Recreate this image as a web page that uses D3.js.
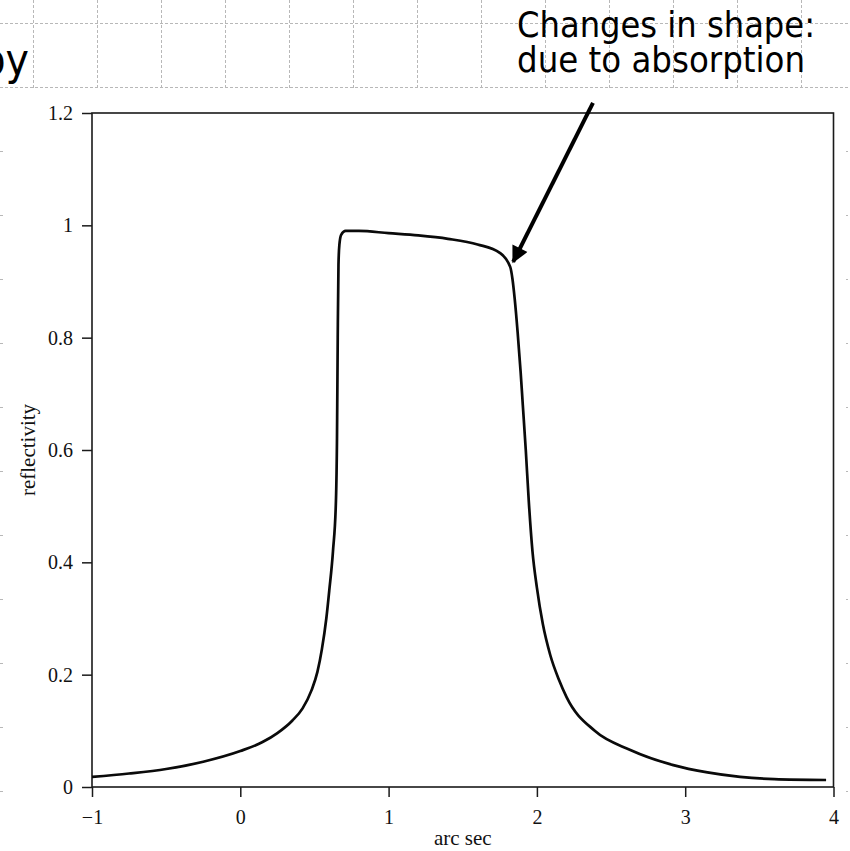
<!DOCTYPE html>
<html>
<head>
<meta charset="utf-8">
<script src="https://cdn.jsdelivr.net/npm/d3@7"></script>
<style>
  html, body { margin: 0; padding: 0; background: #fff; }
  svg { display: block; }
</style>
</head>
<body>
<svg id="chart" width="850" height="851"></svg>
<script>
// rocking curve
const arcSec = [-1.0, -0.75, -0.5, -0.25, 0.0, 0.15, 0.25, 0.35, 0.42, 0.48, 0.52, 0.55, 0.58, 0.6,
  0.625, 0.645, 0.652, 0.657, 0.662, 0.668, 0.68, 0.71, 0.8, 1.0, 1.2, 1.4, 1.6, 1.75, 1.82, 1.835,
  1.85, 1.87, 1.89, 1.905, 1.925, 1.945, 1.97, 2.0, 2.04, 2.09, 2.15, 2.2, 2.39, 2.63, 2.92, 3.15, 3.37, 3.6, 3.95]
const reflectivity = [0.018, 0.024, 0.032, 0.045, 0.064, 0.08, 0.096, 0.118, 0.14, 0.172, 0.205, 0.245, 0.3, 0.35,
  0.42, 0.51, 0.62, 0.8, 0.93, 0.965, 0.983, 0.99, 0.99, 0.986, 0.982, 0.976, 0.966, 0.951, 0.926, 0.905,
  0.87, 0.81, 0.74, 0.68, 0.6, 0.51, 0.42, 0.355, 0.29, 0.235, 0.19, 0.16, 0.1, 0.066, 0.039, 0.026, 0.018, 0.014, 0.0125]

const xTicks = [-1, 0, 1, 2, 3, 4]
const xTickLabels = ["\u22121", "0", "1", "2", "3", "4"]
const yTicks = [0, 0.2, 0.4, 0.6, 0.8, 1, 1.2]
const yTickLabels = ["0", "0.2", "0.4", "0.6", "0.8", "1", "1.2"]

const noteLines = ["Changes in shape:", "due to absorption"]
const arrowFrom = [2.378, 1.218]
const arrowTo = [1.84, 0.935]

const width = 850
const height = 851

const svg = d3.select("#chart")

// slide grid (dashed) behind everything
const grid = svg.append("g")
  .attr("stroke", "#b8b8b8")
  .attr("stroke-width", 1)
  .attr("stroke-dasharray", "3,2")
grid.selectAll(".gv")
  .data(d3.range(33.5, width, 64))
  .join("line")
  .attr("x1", d => d).attr("x2", d => d)
  .attr("y1", 0).attr("y2", height)
grid.selectAll(".gh")
  .data(d3.range(23.5, height, 64))
  .join("line")
  .attr("y1", d => d).attr("y2", d => d)
  .attr("x1", 0).attr("x2", width)

// slide title, only its last letters are on the page
svg.append("text")
  .attr("x", 29)
  .attr("y", 75)
  .attr("text-anchor", "end")
  .attr("font-family", "'DejaVu Sans Condensed', 'DejaVu Sans', sans-serif")
  .attr("font-size", 44)
  .attr("fill", "#000")
  .text("Spectroscopy")

// the pasted figure is an opaque white picture
svg.append("rect")
  .attr("x", 3).attr("y", 88)
  .attr("width", 843).attr("height", height - 88)
  .attr("fill", "#fff")

const x = d3.scaleLinear([-1, 4], [92, 833.5])
const y = d3.scaleLinear([0, 1.2], [787, 113])

const serif = "'Liberation Serif', 'Times New Roman', serif"

// frame
svg.append("rect")
  .attr("x", x(-1)).attr("y", y(1.2))
  .attr("width", x(4) - x(-1)).attr("height", y(0) - y(1.2))
  .attr("fill", "none")
  .attr("stroke", "#1a1a1a")
  .attr("stroke-width", 1.6)

const xAxis = d3.axisBottom(x)
  .tickValues(xTicks)
  .tickFormat((d, i) => xTickLabels[i])
  .tickSize(10)
  .tickSizeOuter(0)
  .tickPadding(13)

const yAxis = d3.axisLeft(y)
  .tickValues(yTicks)
  .tickFormat((d, i) => yTickLabels[i])
  .tickSize(10)
  .tickSizeOuter(0)
  .tickPadding(9)

const gx = svg.append("g")
  .attr("transform", `translate(0, ${y(0)})`)
  .call(xAxis)
const gy = svg.append("g")
  .attr("transform", `translate(${x(-1)}, 0)`)
  .call(yAxis)

for (const g of [gx, gy]) {
  g.select(".domain").remove()
  g.selectAll(".tick line").attr("stroke", "#1a1a1a").attr("stroke-width", 1.5)
  g.selectAll(".tick text")
    .attr("font-family", serif)
    .attr("font-size", 20)
    .attr("fill", "#111")
}

svg.append("text")
  .attr("x", (x(-1) + x(4)) / 2)
  .attr("y", 845)
  .attr("text-anchor", "middle")
  .attr("font-family", serif)
  .attr("font-size", 21)
  .attr("fill", "#111")
  .text("arc sec")

svg.append("text")
  .attr("transform", `translate(35, ${y(0.6)}) rotate(-90)`)
  .attr("text-anchor", "middle")
  .attr("font-family", serif)
  .attr("font-size", 21)
  .attr("fill", "#111")
  .text("reflectivity")

// the curve
const points = arcSec.map((d, i) => [d, reflectivity[i]])
const line = d3.line()
  .x(d => x(d[0]))
  .y(d => y(d[1]))
  .curve(d3.curveMonotoneX)

svg.append("path")
  .attr("d", line(points))
  .attr("fill", "none")
  .attr("stroke", "#0a0a0a")
  .attr("stroke-width", 2.7)
  .attr("stroke-linejoin", "round")

// annotation text + arrow (slide overlay)
const note = svg.append("text")
  .attr("font-family", "'DejaVu Sans Condensed', 'DejaVu Sans', sans-serif")
  .attr("font-size", 36)
  .attr("fill", "#000")
note.selectAll("tspan")
  .data(noteLines)
  .join("tspan")
  .attr("x", 517)
  .attr("y", (d, i) => 37 + i * 35)
  .attr("textLength", (d, i) => i === 0 ? 298 : 288)
  .attr("lengthAdjust", "spacingAndGlyphs")
  .text(d => d)

const defs = svg.append("defs")
defs.append("marker")
  .attr("id", "head")
  .attr("viewBox", "0 0 10 10")
  .attr("refX", 9)
  .attr("refY", 5)
  .attr("markerWidth", 5.5)
  .attr("markerHeight", 4.2)
  .attr("markerUnits", "strokeWidth")
  .attr("orient", "auto")
  .append("path")
  .attr("d", "M0,0 L10,5 L0,10 Z")
  .attr("fill", "#000")

svg.append("line")
  .attr("x1", x(arrowFrom[0])).attr("y1", y(arrowFrom[1]))
  .attr("x2", x(arrowTo[0])).attr("y2", y(arrowTo[1]))
  .attr("stroke", "#000")
  .attr("stroke-width", 4)
  .attr("marker-end", "url(#head)")
</script>
</body>
</html>
